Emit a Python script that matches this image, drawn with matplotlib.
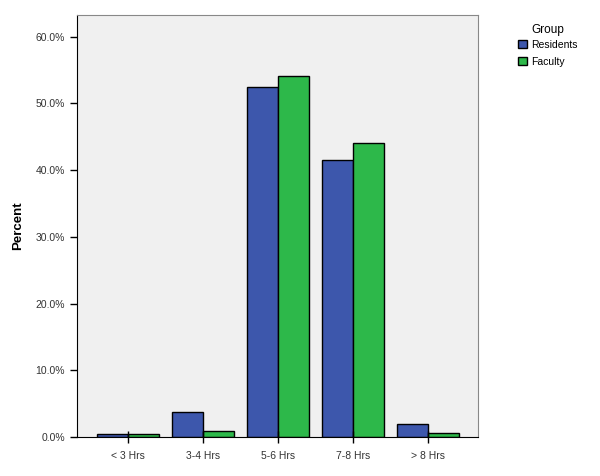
import numpy as np
import matplotlib.pyplot as plt
from matplotlib.ticker import FuncFormatter

categories = ["< 3 Hrs", "3-4 Hrs", "5-6 Hrs", "7-8 Hrs", "> 8 Hrs"]
residents = [0.4, 3.8, 52.4, 41.5, 2.0]
faculty = [0.4, 0.9, 54.1, 44.1, 0.6]

blue = "#3d57ac"
green = "#2db84a"

plt.rcParams["font.family"] = ["Liberation Sans", "DejaVu Sans"]

fig = plt.figure(figsize=(6, 4.76), dpi=100)
ax = fig.add_axes([0.128, 0.082, 0.669, 0.886])
ax.set_facecolor("#f0f0f0")

x = np.arange(len(categories))
w = 0.41
ax.bar(x - w / 2, residents, w, color=blue, edgecolor="black", linewidth=1.0, label="Residents")
ax.bar(x + w / 2, faculty, w, color=green, edgecolor="black", linewidth=1.0, label="Faculty")

ax.set_xlim(-0.68, 4.67)
ax.set_ylim(0, 63.2)
ax.set_yticks([0, 10, 20, 30, 40, 50, 60])
ax.yaxis.set_major_formatter(FuncFormatter(lambda v, p: "%.1f%%" % v))
ax.set_xticks(x)
ax.set_xticklabels(categories)
ax.tick_params(axis="y", direction="out", length=5, width=1, labelsize=7.5, colors="black", labelcolor="#333333")
ax.tick_params(axis="x", direction="inout", length=8, width=1, labelsize=7.5, labelcolor="#333333", pad=6)

for s in ["top", "right"]:
    ax.spines[s].set_color("#888888")
for s in ["left", "bottom"]:
    ax.spines[s].set_color("black")

ax.set_ylabel("Percent", fontsize=9.5, fontweight="bold", labelpad=8)

leg = fig.legend(loc="upper left", bbox_to_anchor=(0.848, 0.97), title="Group",
                 frameon=False, fontsize=7.5, title_fontsize=8.5, handlelength=0.8,
                 handleheight=0.8, handletextpad=0.4, labelspacing=0.65)
leg._legend_box.align = "center"
leg._legend_box.sep = 3

plt.savefig("out.png", dpi=100)
